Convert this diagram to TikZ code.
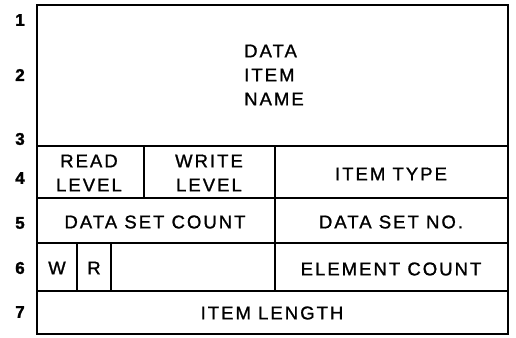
\documentclass[tikz,border=0pt]{standalone}
\usepackage{fontspec}
\setmainfont{Liberation Sans}
\newfontfamily\lblfont[LetterSpace=11,FakeBold=1.2]{Liberation Sans}
\newfontfamily\numfont[FakeBold=1.5]{Liberation Sans}
\begin{document}
\begin{tikzpicture}[x=1pt,y=-1pt,
  inner/.style={line width=1.8pt},
  outer/.style={line width=2.8pt},
  lbl/.style={font=\fontsize{18.5}{24}\lblfont, inner sep=0pt, align=center},
  num/.style={font=\fontsize{17}{17}\numfont\bfseries, inner sep=0pt}]
\useasboundingbox (0,0) rectangle (516,337);
% grid lines
\draw[inner] (37,146) -- (508,146);
\draw[inner] (37,198) -- (508,198);
\draw[inner] (37,243) -- (508,243);
\draw[inner] (37,291) -- (508,291);
\draw[inner] (144,146) -- (144,198);
\draw[inner] (275,146) -- (275,291);
\draw[inner] (77,243) -- (77,291);
\draw[inner] (111,243) -- (111,291);
\draw[outer] (37,5) rectangle (508,334);
% labels
\node[lbl, align=left] (name) at (274,75) {DATA\\ITEM\\NAME};
\node[lbl] (read) at (89,173) {READ\\LEVEL};
\node[lbl] (write) at (209,173) {WRITE\\LEVEL};
\node[lbl] (type) at (391,174) {ITEM TYPE};
\node[lbl] (dsc) at (155,222) {DATA SET COUNT};
\node[lbl] (dsn) at (391,222) {DATA SET NO.};
\node[lbl] (w) at (57,268) {W};
\node[lbl] (r) at (94,268) {R};
\node[lbl] (ec) at (391,269) {ELEMENT COUNT};
\node[lbl] (il) at (272,313) {ITEM LENGTH};
% row numbers
\node[num] (n1) at (20,20) {1};
\node[num] (n2) at (20,75) {2};
\node[num] (n3) at (20,139) {3};
\node[num] (n4) at (20,178) {4};
\node[num] (n5) at (20,223) {5};
\node[num] (n6) at (20,268) {6};
\node[num] (n7) at (20,312) {7};
\end{tikzpicture}
\end{document}
